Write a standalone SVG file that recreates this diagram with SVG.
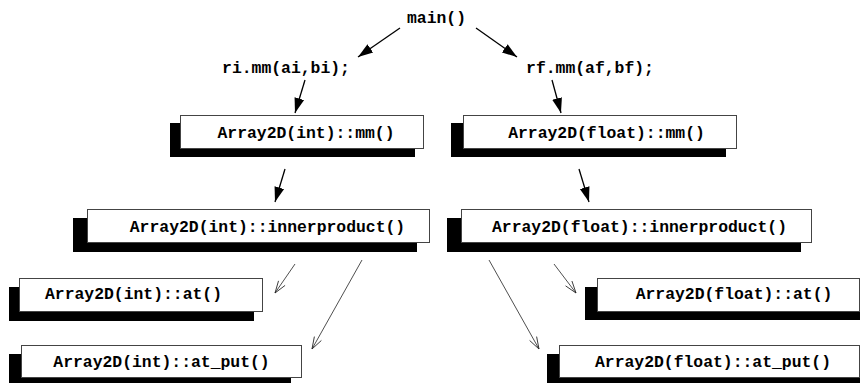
<svg xmlns="http://www.w3.org/2000/svg" width="862" height="383" viewBox="0 0 862 383">
<style>
text{font-family:"Liberation Mono","Courier New",monospace;font-weight:bold;font-size:16.4px;fill:#000;text-anchor:middle}
.box{fill:#fff;stroke:#444;stroke-width:1}
.sh{fill:#000}
.a1{stroke:#000;stroke-width:1.3;fill:none}
.a2{stroke:#222;stroke-width:0.8;fill:none}
</style>
<defs>
<marker id="fa" markerUnits="userSpaceOnUse" markerWidth="16" markerHeight="12" refX="15" refY="5" orient="auto" viewBox="0 0 16 10">
<path d="M0,0 L15,5 L0,10 z" fill="#000"/>
</marker>
<marker id="oa" markerUnits="userSpaceOnUse" markerWidth="14" markerHeight="10" refX="12" refY="4" orient="auto" viewBox="0 0 14 8" overflow="visible">
<path d="M0,0 L12,4 L0,8" fill="none" stroke="#222" stroke-width="0.8"/>
</marker>
</defs>
<rect width="862" height="383" fill="#fff"/>
<g id="connectors">
<line class="a1" x1="400" y1="28" x2="358" y2="57" marker-end="url(#fa)"/>
<line class="a1" x1="476" y1="28" x2="517" y2="57" marker-end="url(#fa)"/>
<line class="a1" x1="305" y1="80" x2="295" y2="113" marker-end="url(#fa)"/>
<line class="a1" x1="552" y1="80" x2="561" y2="113" marker-end="url(#fa)"/>
<line class="a1" x1="285" y1="169" x2="275" y2="202" marker-end="url(#fa)"/>
<line class="a1" x1="579" y1="169" x2="589" y2="202" marker-end="url(#fa)"/>
<line class="a2" x1="295" y1="264" x2="275" y2="293" marker-end="url(#oa)"/>
<line class="a2" x1="362" y1="260" x2="312" y2="349" marker-end="url(#oa)"/>
<line class="a2" x1="489" y1="260" x2="539" y2="349" marker-end="url(#oa)"/>
<line class="a2" x1="554" y1="264" x2="576" y2="293" marker-end="url(#oa)"/>
</g>
<g id="main"><text x="436.5" y="23">main()</text></g>
<g id="ri_mm"><text x="286" y="73">ri.mm(ai,bi);</text></g>
<g id="rf_mm"><text x="590" y="73">rf.mm(af,bf);</text></g>
<g id="int_mm">
<rect class="sh" x="170" y="123" width="245" height="34"/>
<rect class="box" x="180.5" y="115.5" width="243" height="33"/>
<text x="306" y="138">Array2D(int)::mm()</text>
</g>
<g id="float_mm">
<rect class="sh" x="451" y="123" width="275" height="34"/>
<rect class="box" x="463.5" y="115.5" width="273" height="33"/>
<text x="606.5" y="138">Array2D(float)::mm()</text>
</g>
<g id="int_inner">
<rect class="sh" x="73" y="218" width="344" height="34"/>
<rect class="box" x="87.5" y="209.5" width="342" height="33"/>
<text x="267.5" y="232">Array2D(int)::innerproduct()</text>
</g>
<g id="float_inner">
<rect class="sh" x="447" y="218" width="354" height="34"/>
<rect class="box" x="461.5" y="209.5" width="350" height="33"/>
<text x="639.5" y="232">Array2D(float)::innerproduct()</text>
</g>
<g id="int_at">
<rect class="sh" x="9" y="287" width="245" height="34"/>
<rect class="box" x="19.5" y="278.5" width="243" height="33"/>
<text x="133.5" y="299">Array2D(int)::at()</text>
</g>
<g id="int_at_put">
<rect class="sh" x="9" y="354" width="282" height="34"/>
<rect class="box" x="21.5" y="345.5" width="280" height="32"/>
<text x="161.5" y="367">Array2D(int)::at_put()</text>
</g>
<g id="float_at">
<rect class="sh" x="585" y="287" width="275" height="33"/>
<rect class="box" x="597.5" y="278.5" width="262" height="33"/>
<text x="734" y="299">Array2D(float)::at()</text>
</g>
<g id="float_at_put">
<rect class="sh" x="547" y="354" width="313" height="34"/>
<rect class="box" x="559.5" y="345.5" width="300" height="32"/>
<text x="713" y="367">Array2D(float)::at_put()</text>
</g>
</svg>
